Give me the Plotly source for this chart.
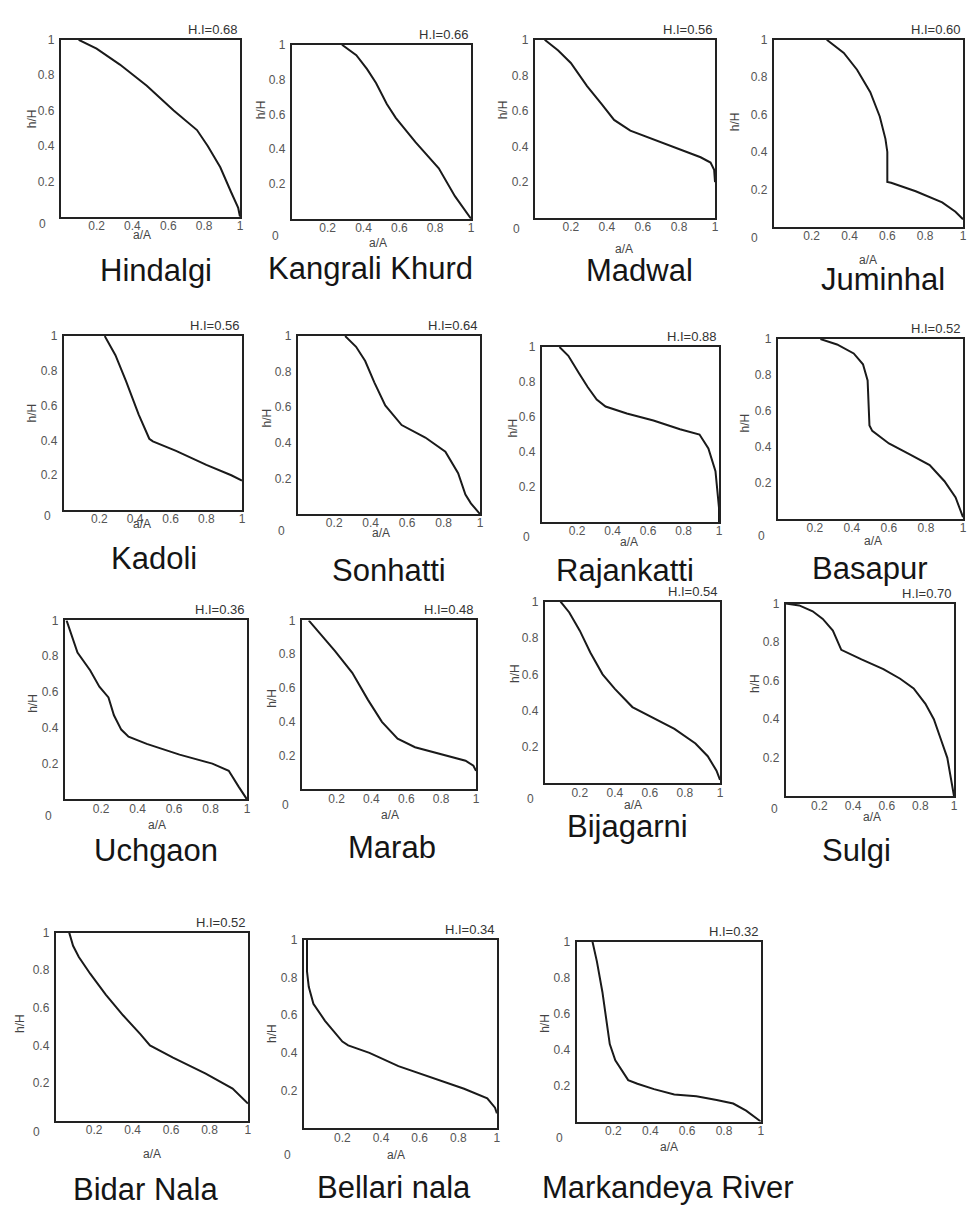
import plotly.graph_objects as go

W, H = 968, 1209

# ---- data: hypsometric curves (a/A, h/H) ----
names = ["Hindalgi", "Kangrali Khurd", "Madwal", "Juminhal",
         "Kadoli", "Sonhatti", "Rajankatti", "Basapur",
         "Uchgaon", "Marab", "Bijagarni", "Sulgi",
         "Bidar Nala", "Bellari nala", "Markandeya River"]
hi_values = ["0.68", "0.66", "0.56", "0.60",
             "0.56", "0.64", "0.88", "0.52",
             "0.36", "0.48", "0.54", "0.70",
             "0.52", "0.34", "0.32"]

hindalgi_x = [0.10, 0.20, 0.33, 0.48, 0.63, 0.76, 0.82, 0.89, 0.95, 0.99, 1.0]
hindalgi_y = [1.0, 0.95, 0.86, 0.74, 0.60, 0.49, 0.40, 0.28, 0.14, 0.05, 0.0]
kangrali_x = [0.28, 0.36, 0.42, 0.47, 0.53, 0.58, 0.69, 0.82, 0.91, 1.0]
kangrali_y = [1.0, 0.94, 0.86, 0.78, 0.66, 0.58, 0.44, 0.29, 0.13, 0.0]
madwal_x = [0.055, 0.13, 0.20, 0.29, 0.37, 0.44, 0.53, 0.66, 0.81, 0.92, 0.975, 0.995, 1.0]
madwal_y = [1.0, 0.94, 0.87, 0.74, 0.64, 0.55, 0.49, 0.44, 0.38, 0.34, 0.31, 0.27, 0.20]
juminhal_x = [0.28, 0.37, 0.44, 0.51, 0.56, 0.59, 0.60, 0.60, 0.62, 0.75, 0.89, 0.96, 1.0]
juminhal_y = [1.0, 0.93, 0.84, 0.72, 0.59, 0.47, 0.40, 0.24, 0.235, 0.19, 0.13, 0.08, 0.04]
kadoli_x = [0.23, 0.29, 0.35, 0.42, 0.48, 0.50, 0.63, 0.80, 0.94, 1.0]
kadoli_y = [1.0, 0.89, 0.74, 0.55, 0.41, 0.395, 0.34, 0.26, 0.20, 0.17]
sonhatti_x = [0.26, 0.32, 0.37, 0.42, 0.48, 0.52, 0.57, 0.70, 0.81, 0.88, 0.92, 0.95, 1.0]
sonhatti_y = [1.0, 0.94, 0.86, 0.74, 0.61, 0.56, 0.50, 0.43, 0.35, 0.23, 0.11, 0.06, 0.0]
rajankatti_x = [0.10, 0.15, 0.21, 0.26, 0.31, 0.36, 0.48, 0.63, 0.78, 0.89, 0.94, 0.98, 1.0, 1.0]
rajankatti_y = [1.0, 0.95, 0.85, 0.77, 0.70, 0.66, 0.62, 0.58, 0.53, 0.50, 0.42, 0.29, 0.08, 0.0]
basapur_x = [0.23, 0.32, 0.41, 0.46, 0.485, 0.49, 0.495, 0.51, 0.60, 0.71, 0.82, 0.90, 0.96, 1.0]
basapur_y = [1.0, 0.97, 0.92, 0.86, 0.77, 0.64, 0.52, 0.49, 0.42, 0.36, 0.30, 0.21, 0.12, 0.01]
uchgaon_x = [0.01, 0.045, 0.07, 0.14, 0.19, 0.24, 0.27, 0.31, 0.35, 0.45, 0.63, 0.81, 0.90, 0.955, 1.0]
uchgaon_y = [1.0, 0.89, 0.82, 0.72, 0.63, 0.57, 0.47, 0.39, 0.35, 0.31, 0.25, 0.20, 0.16, 0.07, 0.0]
marab_x = [0.04, 0.10, 0.19, 0.29, 0.38, 0.46, 0.55, 0.65, 0.80, 0.94, 0.985, 1.0]
marab_y = [1.0, 0.93, 0.82, 0.69, 0.53, 0.40, 0.30, 0.25, 0.21, 0.17, 0.14, 0.11]
bijagarni_x = [0.09, 0.14, 0.20, 0.26, 0.33, 0.40, 0.50, 0.62, 0.74, 0.86, 0.93, 0.98, 1.0]
bijagarni_y = [1.0, 0.94, 0.84, 0.72, 0.60, 0.52, 0.42, 0.36, 0.30, 0.22, 0.15, 0.07, 0.02]
sulgi_x = [0.0, 0.08, 0.16, 0.22, 0.28, 0.33, 0.45, 0.58, 0.68, 0.76, 0.83, 0.88, 0.92, 0.96, 1.0]
sulgi_y = [1.0, 0.99, 0.96, 0.92, 0.86, 0.76, 0.71, 0.66, 0.61, 0.56, 0.48, 0.40, 0.30, 0.20, 0.0]
bidar_x = [0.07, 0.09, 0.12, 0.18, 0.26, 0.35, 0.44, 0.49, 0.61, 0.78, 0.92, 1.0]
bidar_y = [1.0, 0.93, 0.87, 0.78, 0.67, 0.56, 0.46, 0.40, 0.335, 0.25, 0.17, 0.09]
bellari_x = [0.017, 0.017, 0.026, 0.05, 0.11, 0.20, 0.23, 0.34, 0.49, 0.66, 0.83, 0.95, 0.99, 1.0]
bellari_y = [1.0, 0.83, 0.75, 0.66, 0.57, 0.46, 0.44, 0.40, 0.33, 0.27, 0.21, 0.16, 0.11, 0.08]
markandeya_x = [0.086, 0.11, 0.14, 0.16, 0.18, 0.21, 0.28, 0.33, 0.42, 0.53, 0.65, 0.76, 0.85, 0.92, 1.0]
markandeya_y = [1.0, 0.89, 0.72, 0.56, 0.43, 0.34, 0.23, 0.21, 0.18, 0.15, 0.14, 0.12, 0.10, 0.06, 0.0]

curves = [(hindalgi_x, hindalgi_y), (kangrali_x, kangrali_y), (madwal_x, madwal_y),
          (juminhal_x, juminhal_y), (kadoli_x, kadoli_y), (sonhatti_x, sonhatti_y),
          (rajankatti_x, rajankatti_y), (basapur_x, basapur_y), (uchgaon_x, uchgaon_y),
          (marab_x, marab_y), (bijagarni_x, bijagarni_y), (sulgi_x, sulgi_y),
          (bidar_x, bidar_y), (bellari_x, bellari_y), (markandeya_x, markandeya_y)]

tick_vals = [0.2, 0.4, 0.6, 0.8, 1.0]
tick_text = ["0.2", "0.4", "0.6", "0.8", "1"]

# ---- layout (pixel positions of each panel) ----
# box: left, right, top, bottom
boxes = [(61, 241, 33, 211), (293, 473, 38, 213), (537, 718, 33, 212), (777, 967, 33, 221),
         (64, 243, 331, 506), (299, 482, 331, 510), (544, 722, 342, 518), (781, 967, 334, 515),
         (65, 248, 617, 797), (303, 478, 617, 787), (547, 723, 598, 781), (789, 958, 600, 794),
         (56, 249, 931, 1120), (305, 499, 938, 1128), (579, 764, 940, 1121)]
aA_pos = [(143, 229), (380, 237), (627, 243), (872, 254),
          (143, 520), (383, 529), (632, 538), (877, 537),
          (158, 823), (392, 813), (636, 803), (876, 815),
          (153, 1154), (398, 1155), (672, 1147)]
hH_pos = [(32, 112), (262, 103), (505, 103), (738, 115),
          (32, 408), (268, 413), (515, 423), (748, 418),
          (33, 700), (273, 695), (517, 670), (758, 680),
          (20, 1022), (273, 1032), (547, 1022)]
zero_pos = [(43, 218), (277, 230), (519, 223), (758, 232),
            (48, 512), (283, 527), (529, 533), (765, 532),
            (49, 814), (287, 803), (533, 797), (778, 807),
            (37, 1132), (289, 1155), (562, 1138)]
name_pos = [(157, 265), (372, 263), (642, 265), (887, 274),
            (155, 555), (391, 567), (628, 567), (873, 565),
            (157, 848), (394, 845), (630, 824), (860, 848),
            (146, 1189), (396, 1187), (671, 1187)]


def px(x):
    return x / W


def py(y):
    return 1 - y / H


FONT = "Liberation Sans, Arial, Helvetica, sans-serif"
fig = go.Figure()
annotations = []
layout_axes = {}

for i, ((cx, cy), (l, r, t, b)) in enumerate(zip(curves, boxes)):
    k = i + 1
    xa = "x" if k == 1 else f"x{k}"
    ya = "y" if k == 1 else f"y{k}"
    fig.add_trace(go.Scatter(x=cx, y=cy, mode="lines", xaxis=xa, yaxis=ya,
                             line=dict(color="#1a1a1a", width=2),
                             showlegend=False, hoverinfo="skip"))
    common = dict(range=[0, 1], showgrid=False, zeroline=False, showline=True,
                  mirror=True, linecolor="#222", linewidth=2, ticks="",
                  tickvals=tick_vals, ticktext=tick_text, fixedrange=True,
                  tickfont=dict(family=FONT, size=12, color="#555"),
                  ticklabeloverflow="allow")
    layout_axes["xaxis" if k == 1 else f"xaxis{k}"] = dict(
        domain=[px(l), px(r)], anchor=ya, ticklabelstandoff=-3, **common)
    layout_axes["yaxis" if k == 1 else f"yaxis{k}"] = dict(
        domain=[py(b), py(t)], anchor=xa, ticklabelstandoff=2, **common)

    # H.I label
    annotations.append(dict(x=px(r), y=py(t - 1), xref="paper", yref="paper",
                            text=f"H.I={hi_values[i]}", showarrow=False,
                            xanchor="right", yanchor="bottom",
                            font=dict(family=FONT, size=13, color="#333")))
    # a/A
    ax_, ay_ = aA_pos[i]
    annotations.append(dict(x=px(ax_), y=py(ay_), xref="paper", yref="paper",
                            text="a/A", showarrow=False, xanchor="center", yanchor="middle",
                            font=dict(family=FONT, size=12, color="#444")))
    # h/H
    hx_, hy_ = hH_pos[i]
    annotations.append(dict(x=px(hx_), y=py(hy_), xref="paper", yref="paper",
                            text="h/H", showarrow=False, textangle=-90,
                            xanchor="center", yanchor="middle",
                            font=dict(family=FONT, size=12, color="#444")))
    # 0 corner
    zx_, zy_ = zero_pos[i]
    annotations.append(dict(x=px(zx_), y=py(zy_), xref="paper", yref="paper",
                            text="0", showarrow=False, xanchor="center", yanchor="middle",
                            font=dict(family=FONT, size=12, color="#555")))
    # name
    nx_, ny_ = name_pos[i]
    annotations.append(dict(x=px(nx_), y=py(ny_), xref="paper", yref="paper",
                            text=names[i], showarrow=False, xanchor="center", yanchor="middle",
                            font=dict(family=FONT, size=31, color="#151515")))

fig.update_layout(width=W, height=H, margin=dict(l=0, r=0, t=0, b=0),
                  paper_bgcolor="white", plot_bgcolor="white",
                  annotations=annotations, **layout_axes)

fig.write_html(
    "out.html",
    config={"displayModeBar": False},
    post_script=(
        "document.documentElement.style.margin='0';"
        "document.body.style.margin='0';document.body.style.padding='0';"
        "document.body.style.overflow='hidden';"
        "var d=document.getElementById('{plot_id}');"
        "d.style.position='absolute';d.style.top='0px';d.style.left='0px';"
    ),
)
